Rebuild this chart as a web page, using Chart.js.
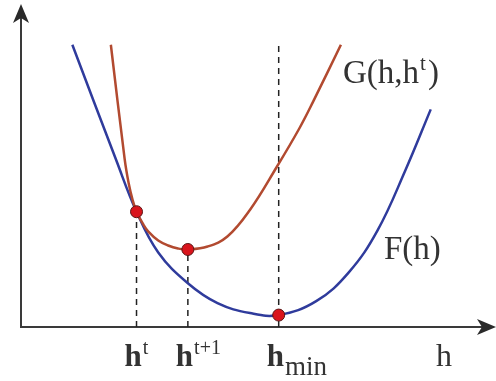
<!DOCTYPE html>
<html>
<head>
<meta charset="utf-8">
<script src="https://cdn.jsdelivr.net/npm/chart.js@4.4.0/dist/chart.umd.min.js"></script>
<style>
  html, body { margin: 0; padding: 0; background: #fff; }
  #wrap { width: 496px; height: 381px; }
</style>
</head>
<body>
<div id="wrap"><canvas id="myChart"></canvas></div>
<script>
// F(h) - blue curve
const fX = [5.2, 9.6, 11.7, 13.9, 16.9, 19.9, 23.2, 26.1, 29.9, 33.2, 36.1, 38.9, 41.5];
const fY = [28.4, 16.9, 11.6, 7.5, 4.4, 2.4, 1.4, 1.2, 2.6, 5.5, 9.7, 15.7, 21.9];

// G(h,h^t) - red curve
const gX = [9.1, 10.5, 10.9, 11.3, 11.7, 12.4, 12.9, 13.9, 14.9, 15.9, 16.9, 18.9, 20.9, 23.2, 25.9, 28.2, 29.6, 32.4];
const gY = [28.4, 16.9, 14.5, 12.8, 11.6, 10.3, 9.6, 8.7, 8.2, 7.9, 7.8, 8.1, 9.1, 11.8, 16.1, 20.0, 22.7, 28.4];

// iterates h^t, h^{t+1}, h_min
const iterSup = ["t", "t+1", ""];
const iterSub = ["", "", "min"];
const iterX = [11.7, 16.9, 26.1];
const iterY = [11.6, 7.8, 1.2];
const dashTop = [11.6, 7.8, 28.4];

const blue = "#2f3b9c";
const red = "#b24a30";
const ink = "#333333";
const serif = "'Liberation Serif', 'DejaVu Serif', serif";

function pts(xs, ys) {
  return xs.map((x, i) => ({ x: x, y: ys[i] }));
}

// dashed verticals from each iterate down to the h axis
const dashSets = iterX.map((x, i) => ({
  data: [{ x: x, y: 0 }, { x: x, y: dashTop[i] }],
  borderColor: "#222",
  borderWidth: 1.5,
  borderDash: [6, 5],
  pointRadius: 0,
  tension: 0,
  order: 3
}));

const axesArrows = {
  id: "axesArrows",
  beforeDatasetsDraw(chart) {
    const { ctx, scales: { x, y } } = chart;
    const x0 = x.getPixelForValue(0);
    const y0 = y.getPixelForValue(0);
    ctx.save();
    ctx.strokeStyle = "#3a3a3a";
    ctx.fillStyle = "#2a2a2a";
    ctx.lineWidth = 2;
    ctx.beginPath();
    ctx.moveTo(x0, y0);
    ctx.lineTo(x0, 18);
    ctx.moveTo(x0 - 1, y0);
    ctx.lineTo(484, y0);
    ctx.stroke();
    // arrow heads
    ctx.beginPath();
    ctx.moveTo(x0, 4);
    ctx.lineTo(x0 - 8, 23);
    ctx.lineTo(x0, 18);
    ctx.lineTo(x0 + 8, 23);
    ctx.closePath();
    ctx.fill();
    ctx.beginPath();
    ctx.moveTo(496, y0);
    ctx.lineTo(477, y0 - 8);
    ctx.lineTo(482, y0);
    ctx.lineTo(477, y0 + 8);
    ctx.closePath();
    ctx.fill();
    ctx.restore();
  }
};

function drawMath(ctx, main, sup, sub, left, baseline, size, bold) {
  ctx.font = (bold ? "bold " : "") + size + "px " + serif;
  ctx.fillText(main, left, baseline);
  let x = left + ctx.measureText(main).width + 1;
  if (sup) {
    ctx.font = Math.round(size * 0.64) + "px " + serif;
    ctx.fillText(sup, x, baseline - size * 0.38);
    x += ctx.measureText(sup).width;
  }
  if (sub) {
    ctx.font = Math.round(size * 0.88) + "px " + serif;
    ctx.fillText(sub, x, baseline + size * 0.28);
    x += ctx.measureText(sub).width;
  }
  return x;
}

const labels = {
  id: "labels",
  afterDraw(chart) {
    const { ctx, scales: { x } } = chart;
    ctx.save();
    ctx.fillStyle = ink;
    ctx.textAlign = "left";
    ctx.textBaseline = "alphabetic";
    iterX.forEach((v, i) => {
      const px = x.getPixelForValue(v);
      drawMath(ctx, "h", iterSup[i], iterSub[i], px - 12, 366, 31, true);
    });
    drawMath(ctx, "h", "", "", 436, 366, 32, false);
    let e = drawMath(ctx, "G(h,h", "t", "", 343, 83, 33, false);
    ctx.font = "33px " + serif;
    ctx.fillText(")", e + 2, 83);
    drawMath(ctx, "F(h)", "", "", 384, 259, 33, false);
    ctx.restore();
  }
};

new Chart(document.getElementById("myChart"), {
  type: "line",
  data: {
    datasets: [
      {
        data: pts(iterX, iterY),
        showLine: false,
        pointRadius: 6,
        pointBackgroundColor: "#d9141c",
        pointBorderColor: "#5a1414",
        pointBorderWidth: 1,
        order: 0
      },
      {
        data: pts(gX, gY),
        borderColor: red,
        borderWidth: 2.5,
        pointRadius: 0,
        tension: 0.4,
        order: 1
      },
      {
        data: pts(fX, fY),
        borderColor: blue,
        borderWidth: 2.5,
        pointRadius: 0,
        tension: 0.4,
        order: 2
      },
      ...dashSets
    ]
  },
  options: {
    responsive: true,
    maintainAspectRatio: false,
    animation: false,
    layout: { padding: { left: 21, right: 1, top: 5, bottom: 54 } },
    plugins: { legend: { display: false }, tooltip: { enabled: false } },
    scales: {
      x: { type: "linear", display: false, min: 0, max: 47.4 },
      y: { type: "linear", display: false, min: 0, max: 32.2 }
    }
  },
  plugins: [axesArrows, labels]
});
</script>
</body>
</html>
